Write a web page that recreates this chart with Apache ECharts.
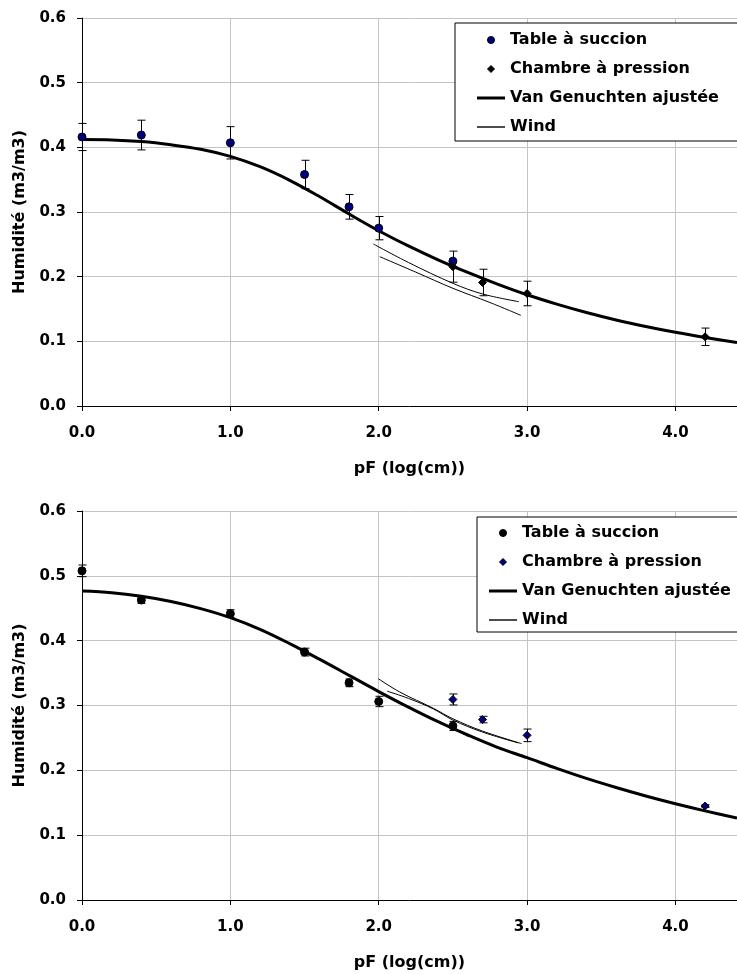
<!DOCTYPE html>
<html><head><meta charset="utf-8">
<script src="https://cdn.jsdelivr.net/npm/echarts@6/dist/echarts.min.js"></script>
<style>html,body{margin:0;padding:0;background:#fff}#c{width:737px;height:974px}</style>
</head><body><div id="c"></div>
<script>
// ---------- data ----------
const pfSuccion = [0, 0.4, 1.0, 1.5, 1.8, 2.0, 2.5];
const pfChambre = [2.5, 2.7, 3.0, 4.2];

// top chart
const topSuccion = [0.416, 0.419, 0.407, 0.358, 0.308, 0.275, 0.224];
const topSuccionErr = [0.021, 0.023, 0.025, 0.022, 0.019, 0.018, 0];
const topChambre = [0.2155, 0.191, 0.174, 0.107];
const topChambreErr = [0.024, 0.0205, 0.019, 0.0135];
const pfCurve = [0, 0.2, 0.4, 0.6, 0.8, 1.0, 1.2, 1.4, 1.6, 1.8, 2.0, 2.2, 2.4, 2.6, 2.8, 3.0, 3.2, 3.4, 3.6, 3.8, 4.0, 4.2, 4.415];
const topVG = [0.412, 0.4115, 0.409, 0.404, 0.397, 0.386, 0.370, 0.349, 0.324, 0.297, 0.271, 0.2475, 0.226, 0.2065, 0.1885, 0.172, 0.1575, 0.1445, 0.133, 0.123, 0.114, 0.106, 0.098];
const topWindApf = [1.964, 2.2, 2.5, 2.7, 2.945];
const topWindA = [0.2505, 0.222, 0.1897, 0.1732, 0.1613];
const topWindBpf = [2.007, 2.25, 2.5, 2.75, 2.958];
const topWindB = [0.2309, 0.207, 0.182, 0.160, 0.1402];

// bottom chart
const botSuccion = [0.5077, 0.4627, 0.4417, 0.3824, 0.335, 0.3062, 0.2685];
const botSuccionErr = [0.009, 0.005, 0.006, 0.006, 0.006, 0.008, 0.007];
const botChambre = [0.3093, 0.2783, 0.254, 0.1449];
const botChambreErr = [0.0085, 0.005, 0.0097, 0.002];
const botVG = [0.4765, 0.474, 0.4685, 0.4605, 0.4495, 0.4355, 0.4175, 0.3955, 0.3715, 0.3465, 0.3215, 0.2975, 0.275, 0.2545, 0.2355, 0.2195, 0.203, 0.1875, 0.1735, 0.1605, 0.1485, 0.1375, 0.1265];
const botWindApf = [1.998, 2.14, 2.37, 2.5, 2.7, 2.963];
const botWindA = [0.3412, 0.321, 0.2955, 0.2795, 0.2605, 0.2412];
const botWindBpf = [2.057, 2.2, 2.37, 2.5, 2.7, 2.94];
const botWindB = [0.3221, 0.311, 0.2945, 0.2775, 0.259, 0.2423];

const xTickLabels = ['0.0', '1.0', '2.0', '3.0', '4.0'];
const yTickLabels = ['0.0', '0.1', '0.2', '0.3', '0.4', '0.5', '0.6'];
const xTitle = 'pF (log(cm))';
const yTitle = 'Humidité (m3/m3)';
const legendNames = ['Table à succion', 'Chambre à pression', 'Van Genuchten ajustée', 'Wind'];

// ---------- build ----------
const FONT = 'DejaVu Sans';
const zip = (xs, ys) => xs.map((x, i) => [x, ys[i]]);
const errData = (xs, ys, es) => xs.map((x, i) => [x, ys[i] - es[i], ys[i] + es[i]]);

function errSeries(idx, data) {
  return {
    type: 'custom', xAxisIndex: idx, yAxisIndex: idx, z: 4, silent: true,
    data: data.filter(d => d[2] - d[1] > 0),
    renderItem: function (params, api) {
      const top = api.coord([api.value(0), api.value(2)]);
      const bot = api.coord([api.value(0), api.value(1)]);
      const x = Math.round(top[0]) + 0.5;
      const st = { stroke: '#000', lineWidth: 1 };
      return { type: 'group', children: [
        { type: 'line', shape: { x1: x, y1: top[1], x2: x, y2: bot[1] }, style: st },
        { type: 'line', shape: { x1: x - 4, y1: top[1], x2: x + 4, y2: top[1] }, style: st },
        { type: 'line', shape: { x1: x - 4, y1: bot[1], x2: x + 4, y2: bot[1] }, style: st }
      ]};
    }
  };
}

function xAxisDef(idx) {
  return {
    type: 'value', gridIndex: idx, min: 0, max: 4.415, interval: 1,
    name: xTitle, nameLocation: 'middle', nameGap: 55,
    nameTextStyle: { fontFamily: FONT, fontWeight: 'bold', fontSize: 16, color: '#000' },
    axisLine: { show: true, onZero: false, lineStyle: { color: '#000', width: 1 } },
    axisTick: { show: true, length: 5, lineStyle: { color: '#000' } },
    axisLabel: { margin: 20, fontFamily: FONT, fontWeight: 'bold', fontSize: 15, color: '#000', showMaxLabel: false,
      formatter: v => { const i = Math.round(v); return Math.abs(v - i) < 1e-9 && xTickLabels[i] !== undefined ? xTickLabels[i] : ''; } },
    splitLine: { show: true, lineStyle: { color: '#c4c4c4', width: 1 } }
  };
}
function yAxisDef(idx) {
  return {
    type: 'value', gridIndex: idx, min: 0, max: 0.6, interval: 0.1,
    name: yTitle, nameLocation: 'middle', nameGap: 54, nameRotate: 90,
    nameTextStyle: { fontFamily: FONT, fontWeight: 'bold', fontSize: 16, color: '#000' },
    axisLine: { show: true, onZero: false, lineStyle: { color: '#000', width: 1 } },
    axisTick: { show: true, length: 5, lineStyle: { color: '#000' } },
    axisLabel: { margin: 16, fontFamily: FONT, fontWeight: 'bold', fontSize: 15, color: '#000',
      formatter: v => { const i = Math.round(v * 10); return yTickLabels[i] !== undefined ? yTickLabels[i] : ''; } },
    splitLine: { show: true, lineStyle: { color: '#c4c4c4', width: 1 } }
  };
}

function legendDef(left, top, padding, succColor, chamColor) {
  return {
    orient: 'vertical', left: left, top: top, padding: padding,
    itemWidth: 28, itemHeight: 7, itemGap: 13, symbolKeepAspect: true,
    backgroundColor: '#fff', borderColor: '#000', borderWidth: 1, borderRadius: 0,
    selectedMode: false,
    textStyle: { fontFamily: FONT, fontWeight: 'bold', fontSize: 16, color: '#000' },
    data: [
      { name: legendNames[0], icon: 'circle', itemStyle: { color: succColor, borderColor: '#000', borderWidth: 1 } },
      { name: legendNames[1], icon: 'path://M4,0L8,4L4,8L0,4Z', itemStyle: { color: chamColor, borderColor: '#000', borderWidth: 1 } },
      { name: legendNames[2], icon: 'path://M0,0H28V3H0Z', itemStyle: { color: '#000', borderWidth: 0 }, lineStyle: { width: 0 } },
      { name: legendNames[3], icon: 'path://M0,0H28V1.4H0Z', itemStyle: { color: '#000', borderWidth: 0 }, lineStyle: { width: 0 } }
    ]
  };
}

function chartSeries(idx, succ, succErr, succColor, cham, chamErr, chamColor, vg, wA, wApf, wB, wBpf) {
  const lineCommon = { type: 'line', xAxisIndex: idx, yAxisIndex: idx, showSymbol: false, symbol: 'none', silent: true,
    itemStyle: { color: '#000' } };
  return [
    Object.assign({}, lineCommon, { name: legendNames[2], data: zip(pfCurve, vg), smooth: 0.35, z: 3,
      lineStyle: { color: '#000', width: 3 } }),
    Object.assign({}, lineCommon, { name: legendNames[3], data: zip(wApf, wA), smooth: 0.35, z: 3,
      lineStyle: { color: '#000', width: 1 } }),
    Object.assign({}, lineCommon, { name: legendNames[3], data: zip(wBpf, wB), smooth: 0.35, z: 3,
      lineStyle: { color: '#000', width: 1 } }),
    errSeries(idx, errData(pfSuccion, succ, succErr)),
    errSeries(idx, errData(pfChambre, cham, chamErr)),
    { type: 'scatter', name: legendNames[0], xAxisIndex: idx, yAxisIndex: idx, symbol: 'circle', symbolSize: 8, z: 5,
      itemStyle: { color: succColor, borderColor: '#000', borderWidth: 1, opacity: 1 }, data: zip(pfSuccion, succ) },
    { type: 'scatter', name: legendNames[1], xAxisIndex: idx, yAxisIndex: idx, symbol: 'diamond', symbolSize: 8, z: 5,
      itemStyle: { color: chamColor, borderColor: '#000', borderWidth: 1, opacity: 1 }, data: zip(pfChambre, cham) }
  ];
}

const option = {
  animation: false,
  backgroundColor: '#fff',
  textStyle: { fontFamily: FONT },
  grid: [
    { left: 82, right: 0, top: 18, height: 388, outerBoundsMode: 'none', containLabel: false },
    { left: 82, right: 0, top: 511, height: 389, outerBoundsMode: 'none', containLabel: false }
  ],
  xAxis: [xAxisDef(0), xAxisDef(1)],
  yAxis: [yAxisDef(0), yAxisDef(1)],
  legend: [
    legendDef(455, 23, [9, 30, 6, 22], '#000080', '#000'),
    legendDef(477, 517, [8, 30, 4, 12], '#000', '#000080')
  ],
  series: [].concat(
    chartSeries(0, topSuccion, topSuccionErr, '#000080', topChambre, topChambreErr, '#000', topVG, topWindA, topWindApf, topWindB, topWindBpf),
    chartSeries(1, botSuccion, botSuccionErr, '#000', botChambre, botChambreErr, '#000080', botVG, botWindA, botWindApf, botWindB, botWindBpf)
  )
};
const chart = echarts.init(document.getElementById('c'), null, { renderer: 'canvas' });
chart.setOption(option);
</script>
</body></html>
